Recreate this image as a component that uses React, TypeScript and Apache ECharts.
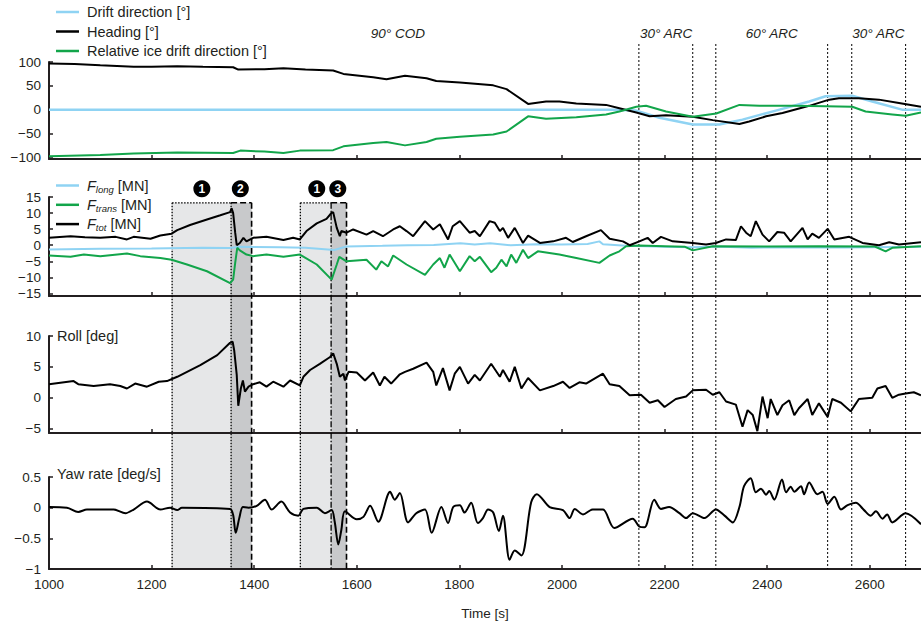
import React, { useEffect, useRef } from "react";
import * as echarts from "echarts";

// ---------- data ----------
const xTicks = [1000, 1200, 1400, 1600, 1800, 2000, 2200, 2400, 2600];
const angleTicks = [-100, -50, 0, 50, 100];
const forceTicks = [-15, -10, -5, 0, 5, 10, 15];
const rollTicks = [-5, 0, 5, 10];
const yawTicks = [-1, -0.5, 0, 0.5];

const driftDirection: [number, number][] = [
  [1000, 0], [2106, 0], [2145, -2], [2190, -17], [2255, -31], [2307, -31], [2352, -21],
  [2417, -2], [2482, 17], [2514, 28], [2566, 29], [2605, 17], [2663, 0], [2700, 0],
];
const heading: [number, number][] = [
  [1000, 97], [1050, 96], [1100, 93], [1165, 90], [1200, 90], [1250, 91], [1300, 90], [1359, 89],
  [1369, 84], [1420, 85], [1457, 87], [1500, 84], [1554, 82], [1574, 75], [1632, 68], [1658, 64],
  [1694, 71], [1736, 66], [1755, 60], [1801, 57], [1866, 51], [1892, 43], [1934, 12], [1969, 17],
  [1995, 17], [2028, 13], [2086, 10], [2112, 3], [2145, -6], [2171, -14], [2203, -12], [2255, -15],
  [2294, -22], [2346, -30], [2365, -25], [2398, -14], [2430, -7], [2482, 8], [2521, 21], [2540, 24],
  [2579, 24], [2618, 21], [2657, 14], [2700, 6],
];
const relativeDrift: [number, number][] = [
  [1000, -98], [1100, -95], [1165, -92], [1250, -90], [1359, -91], [1373, -86], [1420, -88],
  [1457, -91], [1489, -86], [1554, -85], [1574, -77], [1632, -70], [1658, -68], [1694, -75],
  [1736, -68], [1755, -61], [1801, -57], [1866, -52], [1892, -46], [1934, -14], [1969, -19],
  [2028, -16], [2086, -10], [2112, -4], [2145, 6], [2164, 8], [2203, -4], [2255, -15], [2301, -8],
  [2346, 10], [2385, 8], [2450, 8], [2514, 7], [2566, 6], [2592, -4], [2644, -10], [2670, -13], [2700, -6],
];

const fLong: [number, number][] = [
  [1000, -1.3], [1100, -1.1], [1200, -1.0], [1300, -0.8], [1353, -0.9], [1372, -0.5], [1450, -0.6],
  [1500, -0.8], [1556, -1.5], [1580, -0.4], [1650, -0.2], [1700, 0.0], [1750, 0.1], [1802, 0.6],
  [1830, 0.2], [1860, 0.6], [1900, 0.0], [1950, 0.3], [2000, 0.2], [2050, 0.4], [2073, 1.2],
  [2080, 0.3], [2125, -0.2], [2200, -0.5], [2255, -0.6], [2300, -0.4], [2370, -0.8], [2450, -0.6],
  [2550, -0.7], [2700, -0.5],
];
const fTrans: [number, number][] = [
  [1000, -3.2], [1042, -3.6], [1068, -2.9], [1100, -3.4], [1152, -2.6], [1178, -3.4], [1217, -4.0],
  [1239, -4.5], [1269, -6.0], [1308, -8.1], [1353, -11.8], [1359, -10.7], [1363, -5.5], [1367, -0.8],
  [1372, -1.6], [1385, -2.9], [1398, -3.4], [1424, -2.9], [1457, -3.6], [1489, -2.9], [1522, -6.0],
  [1551, -10.7], [1561, -6.0], [1566, -3.6], [1580, -5.0], [1619, -4.5], [1638, -7.6], [1648, -5.0],
  [1661, -6.6], [1671, -3.2], [1697, -6.0], [1733, -9.2], [1749, -6.0], [1762, -4.0], [1771, -7.0],
  [1781, -2.9], [1801, -8.1], [1820, -3.4], [1830, -5.0], [1840, -3.6], [1862, -8.4], [1872, -7.0],
  [1882, -4.5], [1892, -6.6], [1901, -2.9], [1911, -5.5], [1924, -1.4], [1934, -4.0], [1953, -1.9],
  [1995, -2.9], [2028, -4.0], [2073, -5.5], [2093, -3.2], [2112, -1.9], [2125, -0.3], [2151, -0.1],
  [2200, -0.3], [2240, -0.5], [2255, -1.6], [2294, -0.3], [2400, -0.4], [2500, -0.3], [2610, -0.4],
  [2631, -1.9], [2644, -0.8], [2700, -0.3],
];
const fTot: [number, number][] = [
  [1000, 2.3], [1042, 2.8], [1070, 2.5], [1100, 2.3], [1130, 2.6], [1152, 1.8], [1165, 2.6], [1198, 2.0],
  [1217, 3.0], [1239, 3.6], [1250, 4.7], [1275, 6.3], [1308, 8.0], [1334, 9.3], [1353, 10.3], [1356, 11.5],
  [1359, 10.0], [1363, 3.9], [1366, 0.0], [1372, 0.7], [1379, 2.3], [1385, 1.2], [1398, 2.3], [1424, 2.6],
  [1457, 1.6], [1476, 2.3], [1489, 1.8], [1502, 4.4], [1522, 6.8], [1541, 8.2], [1551, 10.1], [1554, 10.3],
  [1561, 5.4], [1567, 2.8], [1570, 4.4], [1580, 3.9], [1593, 4.9], [1619, 3.3], [1632, 4.4], [1651, 2.8],
  [1671, 4.9], [1684, 5.9], [1697, 4.4], [1710, 2.8], [1733, 7.5], [1749, 4.9], [1762, 6.5], [1778, 1.8],
  [1787, 5.9], [1801, 7.5], [1820, 3.9], [1830, 4.4], [1840, 2.8], [1859, 7.5], [1869, 7.0], [1879, 4.4],
  [1885, 5.4], [1895, 2.3], [1908, 5.4], [1924, 0.7], [1934, 3.0], [1957, 0.7], [1983, 1.2], [2008, 2.3],
  [2021, 1.0], [2047, 2.8], [2076, 4.7], [2093, 2.0], [2119, 1.2], [2132, 0.0], [2151, 1.2], [2167, 2.3],
  [2177, 0.7], [2193, 2.6], [2216, 1.2], [2255, 0.7], [2281, 0.2], [2300, 0.7], [2320, 1.8], [2339, 1.6],
  [2349, 5.9], [2359, 3.9], [2368, 2.8], [2378, 7.5], [2391, 3.3], [2404, 1.2], [2420, 4.1], [2433, 3.9],
  [2446, 1.2], [2469, 5.4], [2479, 1.8], [2488, 3.6], [2501, 2.3], [2518, 5.1], [2531, 1.8], [2560, 2.6],
  [2586, 0.7], [2618, 0.0], [2638, 0.9], [2657, 0.2], [2700, 0.9],
];

const roll: [number, number][] = [
  [1000, 2.2], [1048, 2.7], [1057, 2.2], [1087, 1.9], [1119, 2.2], [1139, 1.9], [1152, 1.5], [1168, 2.3],
  [1191, 1.8], [1214, 2.6], [1230, 2.7], [1250, 3.4], [1295, 5.3], [1328, 6.9], [1353, 8.9], [1358, 9.1],
  [1361, 7.7], [1366, 3.7], [1369, -1.3], [1374, 1.5], [1378, 2.8], [1382, 1.0], [1389, 1.8], [1398, 2.2],
  [1411, 2.5], [1424, 1.8], [1437, 2.6], [1457, 1.8], [1470, 2.8], [1489, 2.0], [1496, 3.4], [1509, 4.5],
  [1528, 5.5], [1548, 6.6], [1554, 7.2], [1561, 5.5], [1567, 3.4], [1574, 3.9], [1577, 2.8], [1584, 4.2],
  [1600, 4.1], [1616, 2.8], [1632, 4.1], [1645, 2.0], [1654, 3.4], [1667, 2.3], [1684, 3.8], [1694, 4.2],
  [1710, 4.7], [1736, 5.7], [1749, 4.2], [1755, 2.0], [1768, 4.8], [1781, 1.2], [1791, 3.9], [1801, 5.0],
  [1817, 2.3], [1830, 3.7], [1840, 2.8], [1862, 5.5], [1879, 3.4], [1885, 4.5], [1898, 2.6], [1908, 5.0],
  [1921, 1.5], [1934, 3.2], [1957, 1.2], [1983, 1.9], [2002, 2.6], [2015, 1.6], [2034, 2.5], [2047, 2.3],
  [2080, 3.9], [2093, 2.2], [2112, 1.9], [2132, 0.4], [2154, 0.5], [2171, -0.8], [2187, -0.4], [2200, -1.5],
  [2222, -0.2], [2242, 0.2], [2255, 1.2], [2281, 1.3], [2294, 0.5], [2307, 0.9], [2320, -0.6], [2339, -1.1],
  [2352, -4.7], [2362, -2.0], [2372, -2.8], [2381, -5.4], [2391, 0.2], [2401, -3.3], [2407, -0.2],
  [2420, -2.8], [2430, -1.2], [2443, -0.4], [2453, -2.8], [2462, -1.7], [2479, -0.2], [2488, -2.8],
  [2501, -0.9], [2518, -3.1], [2527, -0.2], [2544, -0.8], [2563, -2.2], [2579, -0.2], [2605, 0.0],
  [2615, 1.5], [2631, 1.9], [2644, 0.0], [2657, 0.5], [2670, 0.7], [2686, 0.9], [2700, 0.4],
];

const yawRate: [number, number][] = [
  [1000, 0.01], [1035, 0], [1057, -0.07], [1074, -0.03], [1126, -0.03], [1149, -0.09], [1165, -0.03],
  [1191, 0.1], [1217, -0.03], [1236, 0], [1250, -0.04], [1259, 0], [1353, -0.02], [1359, -0.12],
  [1364, -0.41], [1371, -0.17], [1378, 0.01], [1389, 0], [1405, 0.03], [1421, 0.13], [1434, -0.03],
  [1453, 0.1], [1470, -0.08], [1486, -0.13], [1496, -0.02], [1522, 0], [1538, -0.09], [1551, -0.04],
  [1557, -0.23], [1564, -0.6], [1570, -0.36], [1577, -0.06], [1600, -0.19], [1613, -0.15], [1626, 0.03],
  [1642, -0.23], [1665, 0.26], [1674, 0.13], [1684, 0.24], [1700, -0.24], [1716, -0.09], [1733, -0.03],
  [1746, -0.41], [1765, 0.01], [1778, -0.25], [1788, 0.01], [1801, 0.04], [1810, -0.08], [1823, 0.08],
  [1836, -0.25], [1846, -0.17], [1856, -0.03], [1866, -0.08], [1877, -0.38], [1885, -0.13], [1898, -0.85],
  [1908, -0.7], [1921, -0.78], [1940, 0.09], [1951, 0.22], [1976, 0.01], [2002, -0.04], [2015, -0.17],
  [2025, -0.02], [2041, -0.11], [2060, -0.03], [2080, -0.03], [2102, -0.33], [2138, -0.18], [2151, -0.31],
  [2161, -0.32], [2180, 0.13], [2193, -0.02], [2209, 0.01], [2229, -0.09], [2242, -0.17], [2255, -0.09],
  [2278, -0.17], [2300, -0.03], [2317, -0.13], [2333, -0.24], [2346, 0.01], [2355, 0.35], [2368, 0.48],
  [2378, 0.25], [2388, 0.31], [2398, 0.21], [2404, 0.27], [2414, 0.13], [2429, 0.46], [2437, 0.25],
  [2446, 0.34], [2453, 0.26], [2466, 0.35], [2472, 0.22], [2482, 0.41], [2498, 0.22], [2508, 0.26],
  [2518, 0.06], [2531, 0.18], [2544, -0.03], [2557, 0.04], [2573, 0.08], [2589, -0.04], [2602, -0.13],
  [2612, -0.06], [2625, -0.18], [2634, -0.11], [2644, -0.24], [2670, -0.09], [2700, -0.27],
];

// event shading (time in s)
const eventStart = [1240, 1490];
const eventSplit = [1355, 1550];
const eventEnd = [1395, 1580];
const eventMarkers: [number, string][] = [[1298, "1"], [1373, "2"], [1522, "1"], [1563, "3"]];
const arcLines = [2150, 2255, 2300, 2518, 2565, 2670];
const regionLabels: [number, string][] = [[1680, "90° COD"], [2203, "30° ARC"], [2409, "60° ARC"], [2617, "30° ARC"]];

// ---------- style ----------
const FONT = "Liberation Sans";
const AX = "#231f20";
const BLUE = "#8fd3f3";
const GREEN = "#12a54a";
const BLACK = "#000000";

const minusFmt = (v: number) => String(v).replace("-", "\u2212");

export default function App() {
  const ref = useRef<HTMLDivElement>(null);
  useEffect(() => {
    document.body.style.margin = "0";
    const chart = echarts.init(ref.current!, null, { renderer: "svg" });

    const grids = [
      { left: 49, right: 0, top: 62, height: 97 },
      { left: 49, right: 0, top: 197, height: 99 },
      { left: 49, right: 0, top: 336, height: 97 },
      { left: 49, right: 0, top: 477, height: 92 },
    ];
    const xAxes = grids.map((_, i) => ({
      type: "value",
      gridIndex: i,
      min: 1000,
      max: 2700,
      axisLine: { show: true, onZero: false, lineStyle: { color: AX, width: 2 } },
      axisTick: { show: true, inside: true, length: 4, customValues: xTicks, lineStyle: { color: AX, width: 1.5 } },
      axisLabel: {
        show: i === 3, customValues: xTicks, margin: 8, formatter: (v: number) => String(v),
        fontFamily: FONT, fontSize: 13.5, color: AX,
      },
      splitLine: { show: false },
      name: i === 3 ? "Time [s]" : "",
      nameLocation: "middle",
      nameGap: 37,
      nameTextStyle: { fontFamily: FONT, fontSize: 13.5, color: AX },
    }));
    const yDefs = [
      { min: -103.6, max: 100, ticks: angleTicks },
      { min: -15.8, max: 15, ticks: forceTicks },
      { min: -5.7, max: 10, ticks: rollTicks },
      { min: -1, max: 0.5, ticks: yawTicks },
    ];
    const yAxes = yDefs.map((d, i) => ({
      type: "value",
      gridIndex: i,
      min: d.min,
      max: d.max,
      axisLine: { show: true, onZero: false, lineStyle: { color: AX, width: 2 } },
      axisTick: { show: true, inside: true, length: 4, customValues: d.ticks, lineStyle: { color: AX, width: 1.5 } },
      axisLabel: {
        customValues: d.ticks, margin: 8, formatter: minusFmt,
        fontFamily: FONT, fontSize: 13.5, color: AX,
      },
      splitLine: { show: false },
    }));

    const line = (name: string, data: [number, number][], color: string, axis: number, extra: any = {}) => ({
      name,
      type: "line",
      data,
      xAxisIndex: axis,
      yAxisIndex: axis,
      showSymbol: false,
      symbol: "none",
      color,
      itemStyle: { color },
      lineStyle: { color, width: 2 },
      z: 5,
      ...extra,
    });

    const legendText = { fontFamily: FONT, fontSize: 14.5, color: AX };
    chart.setOption({
      animation: false,
      grid: grids,
      xAxis: xAxes,
      yAxis: yAxes,
      legend: [
        {
          orient: "vertical", left: 56, top: 4, padding: 0,
          icon: "rect", itemWidth: 23, itemHeight: 2.5, itemGap: 3.5,
          data: ["Drift direction [°]", "Heading [°]", "Relative ice drift direction [°]"],
          textStyle: { ...legendText, lineHeight: 16, padding: [0, 0, 0, 3] },
          selectedMode: false,
        },
        {
          orient: "vertical", left: 56, top: 177, padding: 0,
          icon: "rect", itemWidth: 23, itemHeight: 2.5, itemGap: 2.3,
          data: ["F_long [MN]", "F_trans [MN]", "F_tot [MN]"],
          formatter: (n: string) => {
            const sub = n.split(" ")[0].split("_")[1];
            return `{f|F}{s|${sub}}{u| [MN]}`;
          },
          textStyle: {
            ...legendText,
            lineHeight: 16,
            padding: [0, 0, 0, 3],
            rich: {
              f: { fontFamily: FONT, fontSize: 14.5, fontStyle: "italic", color: AX, lineHeight: 16 },
              s: { fontFamily: FONT, fontSize: 9.5, fontStyle: "italic", color: AX, lineHeight: 16, padding: [7, 0, 0, 0] },
              u: { fontFamily: FONT, fontSize: 14.5, color: AX, lineHeight: 16 },
            },
          },
          selectedMode: false,
        },
      ],
      series: [
        line("Drift direction [°]", driftDirection, BLUE, 0, { lineStyle: { color: BLUE, width: 2.5 } }),
        line("Heading [°]", heading, BLACK, 0),
        line("Relative ice drift direction [°]", relativeDrift, GREEN, 0),
        line("F_long [MN]", fLong, BLUE, 1),
        line("F_trans [MN]", fTrans, GREEN, 1),
        line("F_tot [MN]", fTot, BLACK, 1),
        line("Roll", roll, BLACK, 2),
        line("Yaw rate", yawRate, BLACK, 3, { smooth: 0.3 }),
      ],
    });

    const xp = (v: number) => chart.convertToPixel({ xAxisIndex: 0 }, v) as number;
    const yp = (a: number, v: number) => chart.convertToPixel({ yAxisIndex: a }, v) as number;

    const topAngle = yp(0, 100);
    const arcTop = topAngle - 18;
    const bottom = yp(3, -1);
    const shadeTop = yp(1, 13.2);

    const els: any[] = [];
    const vline = (x: number, y1: number, y2: number, dash: number[], w: number, z = 3) =>
      els.push({ type: "line", z, shape: { x1: x, y1, x2: x, y2 }, style: { stroke: BLACK, lineWidth: w, lineDash: dash } });
    const hline = (x1: number, x2: number, y: number, dash: number[], w: number, z = 3) =>
      els.push({ type: "line", z, shape: { x1, y1: y, x2, y2: y }, style: { stroke: BLACK, lineWidth: w, lineDash: dash } });

    eventStart.forEach((s, i) => {
      const xs = xp(s), xm = xp(eventSplit[i]), xe = xp(eventEnd[i]);
      els.push({ type: "rect", z: 0, shape: { x: xs, y: shadeTop, width: xm - xs, height: bottom - shadeTop }, style: { fill: "#e6e7e8" } });
      els.push({ type: "rect", z: 0, shape: { x: xm, y: shadeTop, width: xe - xm, height: bottom - shadeTop }, style: { fill: "#c8c9cb" } });
      vline(xs, shadeTop, bottom, [1.5, 1.5], 1.3);
      hline(xs, xm, shadeTop, [1.5, 1.5], 1.3);
      vline(xm, shadeTop, bottom, i === 0 ? [1.5, 1.5] : [6, 2, 1.5, 2], 1.3);
      hline(xm, xe, shadeTop, [6, 3], 1.6);
      vline(xe, shadeTop, bottom, [6, 3], 1.6);
    });

    arcLines.forEach((v) => vline(xp(v), arcTop, bottom, [2, 2], 1));

    eventMarkers.forEach(([v, t]) => {
      const cx = xp(v), cy = shadeTop - 14;
      els.push({ type: "circle", z: 10, shape: { cx, cy, r: 8.5 }, style: { fill: BLACK } });
      els.push({
        type: "text", z: 11, x: cx, y: cy + 0.5,
        style: { text: t, fill: "#ffffff", fontFamily: FONT, fontSize: 12, fontWeight: "bold", align: "center", verticalAlign: "middle" },
      });
    });

    regionLabels.forEach(([v, t]) => {
      els.push({
        type: "text", z: 10, x: xp(v), y: topAngle - 29,
        style: { text: t, fill: AX, fontFamily: FONT, fontSize: 13.5, fontStyle: "italic", align: "center", verticalAlign: "middle" },
      });
    });

    const axisLeft = xp(1000);
    els.push({
      type: "text", z: 10, x: axisLeft + 8, y: yp(2, 10),
      style: { text: "Roll [deg]", fill: AX, fontFamily: FONT, fontSize: 14.5, align: "left", verticalAlign: "middle" },
    });
    els.push({
      type: "text", z: 10, x: axisLeft + 8, y: yp(3, 0.5) - 3,
      style: { text: "Yaw rate [deg/s]", fill: AX, fontFamily: FONT, fontSize: 14.5, align: "left", verticalAlign: "middle" },
    });

    chart.setOption({ graphic: { elements: els } });

    return () => chart.dispose();
  }, []);
  return <div ref={ref} style={{ width: 921, height: 622 }} />;
}
